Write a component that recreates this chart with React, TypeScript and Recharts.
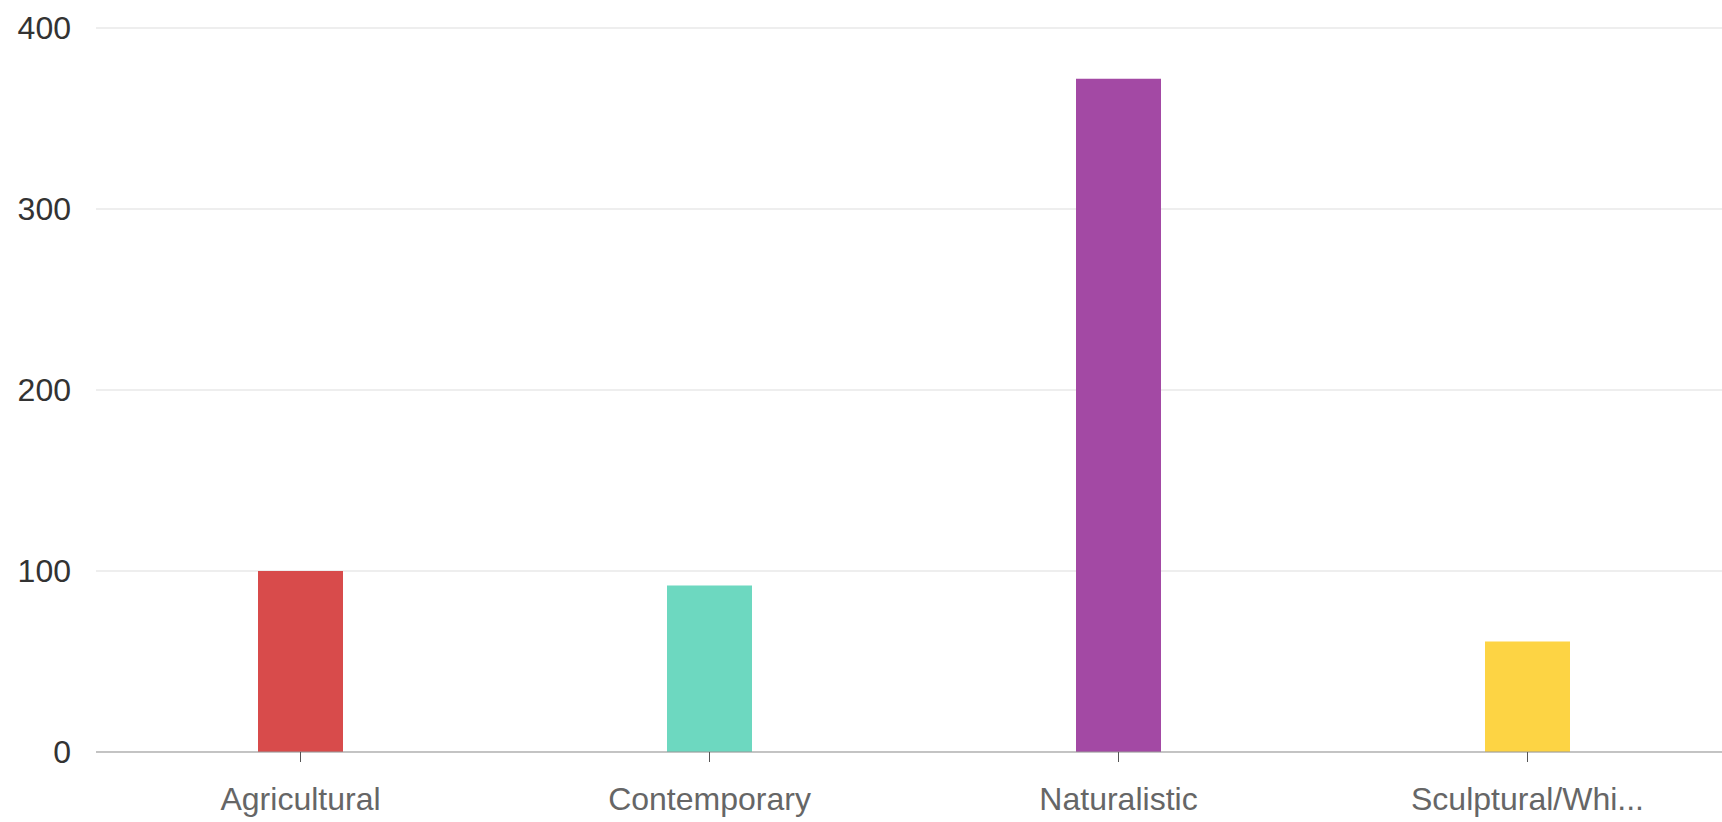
import { BarChart, Bar, XAxis, YAxis, CartesianGrid, Cell } from 'recharts';

const categories = ['Agricultural', 'Contemporary', 'Naturalistic', 'Sculptural/Whimsical'];
const counts = [100, 92, 372, 61];
const barColors = ['#d84b4b', '#6dd8c0', '#a349a4', '#fdd444'];
const yTicks = [0, 100, 200, 300, 400];

const data = categories.map((name, i) => ({ name, count: counts[i] }));

const shorten = (label: string) => (label.length > 14 ? label.slice(0, 14) + '...' : label);

export default function App() {
  return (
    <div
      style={{
        position: 'fixed',
        top: 0,
        left: 0,
        width: 1722,
        height: 822,
        overflow: 'hidden',
        background: '#fff',
      }}
    >
      <BarChart
        width={1740}
        height={822}
        data={data}
        margin={{ top: 28, right: 8, bottom: 10, left: 0 }}
      >
        <CartesianGrid vertical={false} stroke="#dddddd" />
        <XAxis
          dataKey="name"
          tickFormatter={shorten}
          height={60}
          stroke="#999999"
          tickSize={10}
          tickMargin={25}
          tickLine={{ stroke: '#555555' }}
          tick={{ fill: '#666666', fontSize: 32, fontFamily: 'Arial, "Liberation Sans", sans-serif' }}
        />
        <YAxis
          width={96}
          domain={[0, 400]}
          ticks={yTicks}
          axisLine={false}
          tickLine={false}
          tickMargin={19}
          tick={{ fill: '#333333', fontSize: 32, fontFamily: 'Arial, "Liberation Sans", sans-serif' }}
        />
        <Bar dataKey="count" barSize={85} isAnimationActive={false}>
          {data.map((entry, index) => (
            <Cell key={`cell-${entry.name}`} fill={barColors[index]} />
          ))}
        </Bar>
      </BarChart>
    </div>
  );
}
